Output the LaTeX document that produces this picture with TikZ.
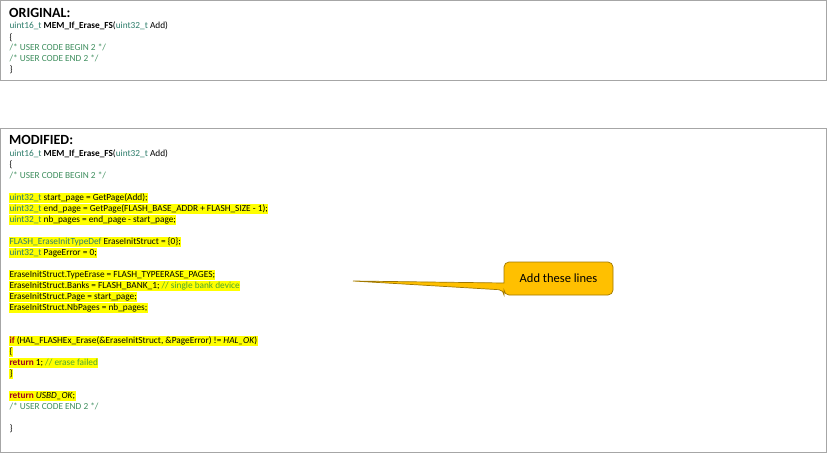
\documentclass[tikz,border=0pt]{standalone}
\usepackage{fontspec}
\setmainfont{Carlito}
\usetikzlibrary{shapes.geometric}
\definecolor{tg}{HTML}{2E7D6B}
\definecolor{cm}{HTML}{3F8F5F}
\definecolor{lc}{HTML}{4EA72E}
\definecolor{kw}{HTML}{A0001E}
\definecolor{hl}{HTML}{FFFF00}
\definecolor{gold}{HTML}{FFC000}
\definecolor{golddk}{HTML}{A07800}
\tikzset{
 ln/.style={anchor=west,inner xsep=0.3pt,inner ysep=0pt,text height=7.6pt,text depth=2.6pt,font=\fontsize{9.3}{11}\selectfont},
 hln/.style={ln,fill=hl},
 hd/.style={anchor=west,inner sep=0pt,font=\fontsize{14}{16}\selectfont\bfseries},
 panel/.style={draw=black!35,line width=0.6pt}
}
\newcommand{\ty}[1]{\textcolor{tg}{#1}}
\newcommand{\cmt}[1]{\textcolor{cm}{#1}}
\newcommand{\lcm}[1]{\textcolor{lc}{#1}}
\newcommand{\kwd}[1]{\textcolor{kw}{\bfseries #1}}
\begin{document}
\begin{tikzpicture}[x=1pt,y=-1pt]
\useasboundingbox (0,0) rectangle (827,453);
\fill[white] (0,0) rectangle (827,453);
\draw[panel] (0.5,0.5) rectangle (826.5,80);
\draw[panel] (0.5,128) rectangle (826.5,452.5);
% original
\node[hd] (oh) at (9,13) {ORIGINAL:};
\node[ln] (o1) at (9,26) {\ty{uint16\_t} \textbf{MEM\_If\_Erase\_FS}(\ty{uint32\_t} Add)};
\node[ln] (o2) at (9,38) {\{};
\node[ln] (o3) at (9,48) {\cmt{/* USER CODE BEGIN 2 */}};
\node[ln] (o4) at (9,59) {\cmt{/* USER CODE END 2 */}};
\node[ln] (o5) at (9,70) {\}};
% modified
\node[hd] (mh) at (9,140) {MODIFIED:};
\node[ln] (m1) at (9,154) {\ty{uint16\_t} \textbf{MEM\_If\_Erase\_FS}(\ty{uint32\_t} Add)};
\node[ln] (m2) at (9,165) {\{};
\node[ln] (m3) at (9,176) {\cmt{/* USER CODE BEGIN 2 */}};
\node[hln] (m4) at (9,198) {\ty{uint32\_t} start\_page = GetPage(Add);};
\node[hln] (m5) at (9,209) {\ty{uint32\_t} end\_page = GetPage(FLASH\_BASE\_ADDR + FLASH\_SIZE - 1);};
\node[hln] (m6) at (9,220) {\ty{uint32\_t} nb\_pages = end\_page - start\_page;};
\node[hln] (m7) at (9,242) {\ty{FLASH\_EraseInitTypeDef} EraseInitStruct = \{0\};};
\node[hln] (m8) at (9,253) {\ty{uint32\_t} PageError = 0;};
\node[hln] (m9) at (9,275) {EraseInitStruct.TypeErase = FLASH\_TYPEERASE\_PAGES;};
\node[hln] (m10) at (9,286) {EraseInitStruct.Banks = FLASH\_BANK\_1; \lcm{// single bank device}};
\node[hln] (m11) at (9,297) {EraseInitStruct.Page = start\_page;};
\node[hln] (m12) at (9,308) {EraseInitStruct.NbPages = nb\_pages;};
\node[hln] (m13) at (9,341) {\kwd{if} (HAL\_FLASHEx\_Erase(\&EraseInitStruct, \&PageError) != \textit{HAL\_OK})};
\node[hln] (m14) at (9,352) {\{};
\node[hln] (m15) at (9,363) {\kwd{return} 1; \lcm{// erase failed}};
\node[hln] (m16) at (9,374) {\}};
\node[hln] (m17) at (9,396) {\kwd{return} \textit{USBD\_OK};};
\node[ln] (m18) at (9,407) {\cmt{/* USER CODE END 2 */}};
\node[ln] (m19) at (9,429) {\}};
% callout
\coordinate (tip) at (353,281);
\draw[draw=golddk,fill=gold,line width=0.7pt,rounded corners=5pt]
  (504,262) -- (613,262) -- (613,295) -- (504,295) -- (504,290)
  [sharp corners] -- (tip) -- (504,283) [rounded corners=5pt] -- cycle;
\node[font=\fontsize{12.5}{14}\selectfont] (co) at (558.5,278.5) {Add these lines};
\end{tikzpicture}
\end{document}
